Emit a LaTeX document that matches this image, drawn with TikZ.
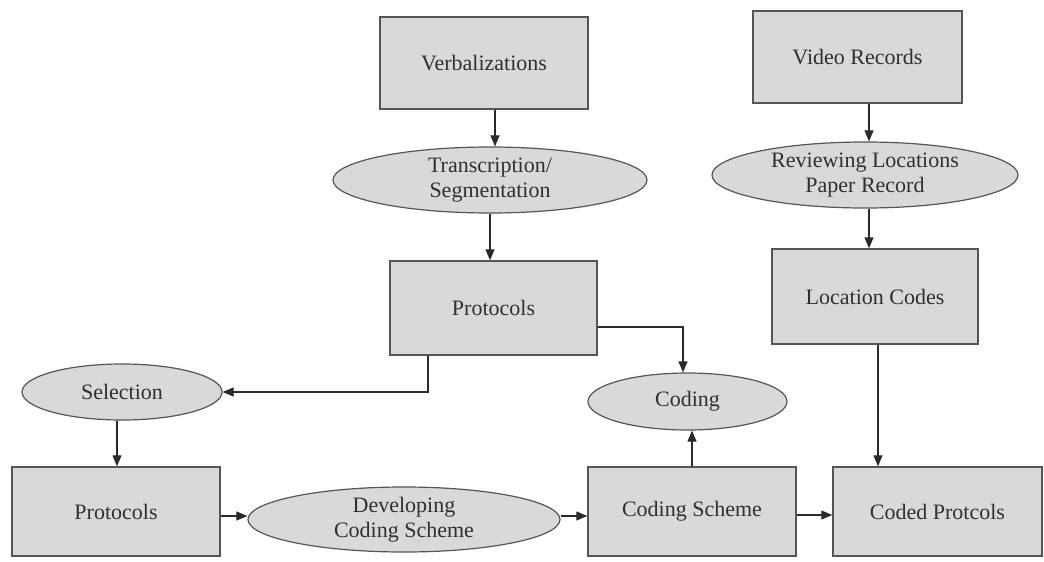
\documentclass[tikz,border=0pt]{standalone}
\usepackage{fontspec}
\setmainfont{Liberation Serif}
\usetikzlibrary{shapes.geometric,arrows.meta}
\definecolor{boxfill}{HTML}{D9D9D9}
\definecolor{boxline}{HTML}{555555}
\definecolor{txt}{HTML}{303030}
\definecolor{conn}{HTML}{2A2A2A}
\begin{document}
\begin{tikzpicture}[x=1pt,y=-1pt,
  every node/.style={font=\fontsize{22}{25}\selectfont, text=txt, align=center, inner sep=0pt},
  rbox/.style={draw=boxline, line width=1.4pt, fill=boxfill, rectangle, minimum width=#1},
  ebox/.style={draw=boxline, line width=1.2pt, fill=boxfill, ellipse},
  arr/.style={draw=conn, line width=1.1pt, -{Triangle[length=11pt,width=9pt]}}]
\useasboundingbox (0,0) rectangle (1044,562);
% boxes
\node[rbox=208pt, minimum height=92pt] (verb) at (484,63) {Verbalizations};
\node[rbox=209pt, minimum height=92pt] (video) at (857.5,57) {Video Records};
\node[ebox, minimum width=314pt, minimum height=66pt] (trans) at (490,180) {Transcription/\\Segmentation};
\node[ebox, minimum width=306pt, minimum height=66pt] (review) at (865,175) {Reviewing Locations\\Paper Record};
\node[rbox=207pt, minimum height=94pt] (prot1) at (493.5,308) {Protocols};
\node[rbox=206pt, minimum height=95pt] (loc) at (875,296.5) {Location Codes};
\node[ebox, minimum width=200pt, minimum height=56pt] (sel) at (122,392) {Selection};
\node[ebox, minimum width=199pt, minimum height=57pt] (coding) at (687.5,401.5) {Coding};
\node[rbox=208pt, minimum height=89pt] (prot2) at (116,511.5) {Protocols};
\node[ebox, minimum width=312pt, minimum height=65pt] (dev) at (404,519.5) {Developing\\Coding Scheme};
\node[rbox=208pt, minimum height=89pt] (scheme) at (692,511.5) {Coding Scheme};
\node[rbox=209pt, minimum height=89pt] (coded) at (937.5,511.5) {Coded Protcols};
% connectors
\draw[arr] ([xshift=11pt]verb.south) -- ([xshift=11pt]verb.south |- trans.north);
\draw[arr] (trans.south) -- (trans.south |- prot1.north);
\draw[arr] ([xshift=11.5pt]video.south) -- ([xshift=11.5pt]video.south |- review.north);
\draw[arr] ([xshift=4pt]review.south) -- ([xshift=4pt]review.south |- loc.north);
\draw[arr] ([xshift=-65.5pt]prot1.south) |- (sel.east);
\draw[arr] ([yshift=-19pt]prot1.east) -| ([xshift=-4.5pt]coding.north);
\draw[arr] ([xshift=3pt]loc.south) -- ([xshift=3pt]loc.south |- coded.north);
\draw[arr] ([xshift=-5pt]sel.south) -- ([xshift=-5pt]sel.south |- prot2.north);
\draw[arr] ([yshift=-4.5pt]prot2.east) -- ([yshift=-4.5pt]prot2.east -| dev.west);
\draw[arr] ([yshift=3.5pt]dev.east) -- ([yshift=3.5pt]dev.east -| scheme.west);
\draw[arr] (scheme.north) -- (scheme.north |- coding.south);
\draw[arr] ([yshift=-3.5pt]scheme.east) -- ([yshift=-3.5pt]scheme.east -| coded.west);
\end{tikzpicture}
\end{document}
